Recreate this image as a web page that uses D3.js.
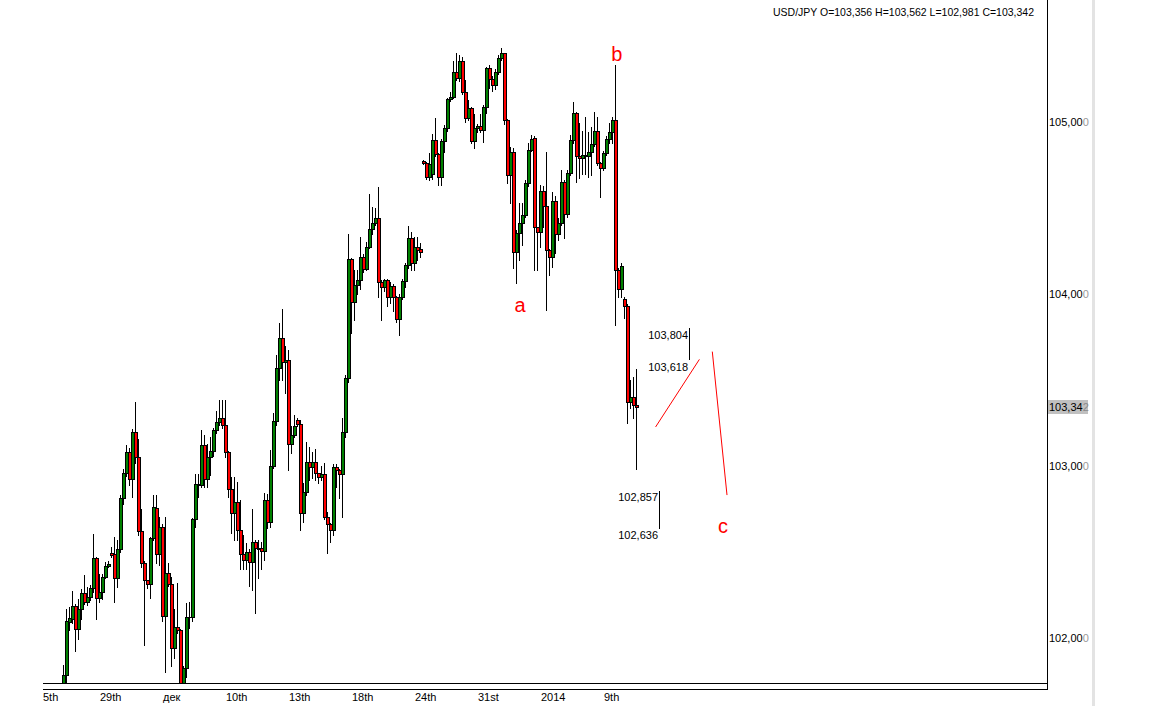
<!DOCTYPE html>
<html><head><meta charset="utf-8">
<script src="https://cdn.jsdelivr.net/npm/d3@7"></script>
<style>html,body{margin:0;padding:0;background:#fff;}svg text{font-family:"Liberation Sans",Arial,sans-serif;}</style>
</head><body>
<script>
// ---- data (USD/JPY, 4H candles) ----
const opens = [101.70,101.785,102.093,102.112,102.188,102.051,102.170,102.260,102.208,102.240,
102.289,102.463,102.231,102.266,102.357,102.419,102.497,102.488,102.351,102.516,
102.812,102.958,103.083,102.923,103.196,103.051,102.624,102.434,102.337,102.314,
102.583,102.756,102.487,102.647,102.130,102.376,102.314,101.940,102.066,102.047,
101.65,101.827,102.124,102.12,102.692,102.894,102.890,103.122,102.923,103.054,
103.089,103.209,103.254,103.277,103.238,103.080,102.865,102.725,102.789,102.628,
102.487,102.453,102.500,102.440,102.557,102.515,102.525,102.505,102.802,102.676,
103.000,103.262,103.568,103.742,103.606,103.616,103.126,103.180,103.265,103.245,
102.725,102.851,103.022,102.992,103.022,102.958,102.938,102.955,102.702,102.663,
102.628,102.992,102.977,102.953,103.196,103.510,104.203,103.955,104.052,104.080,
104.217,104.144,104.275,104.376,104.411,104.440,104.072,104.039,104.081,103.980,
104.046,103.984,103.855,103.984,104.076,104.169,104.324,104.178,104.272,104.263,
104.773,104.760,104.682,104.700,104.895,104.812,104.678,104.890,104.963,105.132,
105.147,105.289,105.254,105.356,105.173,105.021,105.083,104.891,104.963,104.975,
104.955,105.089,105.312,105.249,105.216,105.290,105.374,105.399,105.012,104.692,
104.827,104.246,104.353,104.411,104.459,104.644,104.837,104.905,104.388,104.362,
104.599,104.512,104.256,104.213,104.541,104.347,104.415,104.649,104.463,104.702,
104.895,105.050,104.802,104.790,104.810,104.800,104.827,104.870,104.948,104.763,
104.734,104.818,104.899,104.944,105.012,104.140,104.027,103.969,103.930,103.374,
103.403,103.356];
const highs = [101.843,102.169,102.182,102.273,102.20,102.228,102.283,102.365,102.298,102.31,
102.605,102.47,102.372,102.37,102.44,102.45,102.531,102.589,102.57,102.83,
102.98,103.12,103.103,103.215,103.370,103.155,102.748,102.45,102.34,102.589,
102.831,102.831,102.705,102.66,102.705,102.434,102.357,102.167,102.318,102.05,
101.84,102.205,102.211,102.70,102.952,102.953,103.209,103.18,103.126,103.17,
103.219,103.320,103.384,103.384,103.384,103.09,102.938,102.938,102.909,102.802,
102.599,102.55,102.52,102.750,102.570,102.57,102.56,102.841,102.84,103.093,
103.306,103.645,103.830,103.911,103.70,103.674,103.233,103.297,103.28,103.27,
102.899,103.141,103.112,103.083,103.10,102.96,103.0,103.016,102.734,102.67,
103.012,103.01,102.98,103.277,103.53,104.349,104.21,104.140,104.14,104.333,
104.23,104.304,104.581,104.508,104.50,104.624,104.08,104.09,104.09,104.07,
104.06,103.99,104.00,104.09,104.18,104.395,104.362,104.333,104.33,104.295,
104.78,104.77,104.818,104.928,105.021,104.82,104.90,104.983,105.14,105.176,
105.356,105.399,105.390,105.38,105.244,105.128,105.09,105.047,104.99,105.047,
105.10,105.32,105.33,105.27,105.31,105.39,105.428,105.40,105.02,104.856,
104.85,104.37,104.527,104.527,104.66,104.876,104.924,104.92,104.39,104.634,
104.63,104.827,104.26,104.595,104.57,104.44,104.721,104.66,104.72,104.924,
105.118,105.06,104.992,104.95,105.03,104.94,104.973,105.060,105.03,104.77,
104.83,104.92,104.992,105.03,105.331,104.15,104.178,103.98,103.94,103.5,
103.519,103.562];
const lows = [101.65,101.74,102.047,102.09,101.926,101.994,102.11,102.198,102.192,102.22,
102.27,102.109,102.211,102.227,102.35,102.41,102.47,102.211,102.298,102.5,
102.78,102.94,102.890,102.822,103.019,102.6,102.41,101.959,102.29,102.231,
102.57,102.438,102.424,102.10,101.805,102.3,101.839,101.882,102.03,101.65,
101.6,101.775,102.056,102.1,102.647,102.822,102.88,102.880,102.88,102.948,
103.06,103.19,103.24,103.219,103.05,102.822,102.609,102.570,102.570,102.399,
102.40,102.40,102.30,102.279,102.144,102.347,102.40,102.453,102.638,102.647,
102.99,103.24,103.50,103.50,103.423,102.977,103.074,103.17,103.23,102.628,
102.676,102.831,102.919,102.928,102.919,102.90,102.92,102.69,102.493,102.560,
102.6,102.88,102.812,102.705,103.17,103.49,103.771,103.849,104.00,104.03,
104.13,104.140,104.27,104.35,104.40,103.984,103.849,104.02,103.93,103.95,
103.90,103.839,103.762,103.97,104.042,104.15,104.140,104.14,104.20,104.213,
104.756,104.667,104.663,104.67,104.80,104.634,104.634,104.827,104.95,105.12,
105.138,105.244,105.24,105.16,105.002,105.01,104.88,104.847,104.94,104.94,
104.885,105.054,105.20,105.18,105.19,105.28,105.36,104.99,104.644,104.527,
104.149,104.066,104.198,104.285,104.45,104.63,104.83,104.140,104.14,104.275,
104.391,103.907,104.110,104.159,104.237,104.314,104.40,104.324,104.45,104.69,
104.88,104.653,104.673,104.70,104.70,104.68,104.692,104.86,104.75,104.566,
104.72,104.81,104.88,104.876,103.820,103.98,103.984,103.859,103.248,103.335,
103.277,102.981];
const closes = [101.785,102.099,102.116,102.188,102.051,102.170,102.260,102.208,102.240,102.289,
102.463,102.231,102.266,102.357,102.419,102.43,102.480,102.351,102.516,102.812,
102.958,103.083,102.923,103.196,103.051,102.624,102.434,102.337,102.314,102.583,
102.763,102.487,102.647,102.130,102.376,102.314,101.940,102.066,102.047,101.70,
101.827,102.124,102.12,102.692,102.894,102.890,103.122,102.923,103.054,103.089,
103.209,103.254,103.277,103.238,103.080,102.865,102.725,102.789,102.628,102.487,
102.453,102.500,102.440,102.557,102.522,102.525,102.505,102.802,102.676,103.000,
103.262,103.568,103.742,103.606,103.616,103.126,103.180,103.233,103.245,102.725,
102.851,103.022,102.992,103.022,102.958,102.938,102.955,102.702,102.663,102.628,
102.992,102.977,102.953,103.196,103.510,104.203,103.955,104.052,104.080,104.217,
104.144,104.275,104.376,104.411,104.440,104.072,104.039,104.081,103.980,104.046,
103.984,103.855,103.984,104.076,104.169,104.324,104.178,104.272,104.256,104.243,
104.760,104.682,104.756,104.895,104.812,104.678,104.890,104.963,105.132,105.147,
105.289,105.254,105.356,105.173,105.021,105.083,104.891,104.963,104.975,104.955,
105.089,105.312,105.249,105.216,105.290,105.374,105.399,105.012,104.692,104.827,
104.246,104.353,104.411,104.459,104.644,104.837,104.899,104.388,104.362,104.599,
104.512,104.256,104.213,104.541,104.347,104.415,104.649,104.463,104.702,104.895,
105.050,104.802,104.790,104.810,104.800,104.827,104.870,104.948,104.763,104.734,
104.818,104.899,104.944,105.012,104.140,104.027,104.163,103.930,103.374,103.403,
103.355,103.342];

const priceTicks = [105, 104, 103, 102];
const timeLabels = ["5th","29th","дек","10th","13th","18th","24th","31st","2014","9th"];
const timeLabelIdx = [-7, 12, 33, 54, 75, 96, 117, 138, 159, 180];
const lastPrice = 103.342;
const header = "USD/JPY O=103,356 H=103,562 L=102,981 C=103,342";
// wave annotations: [label, index, price at baseline]
const waveLabels = [["a", 152.0, 103.895], ["b", 184.3, 105.355], ["c", 219.7, 102.61]];
const projUp = [[197.2, 103.227], [211.8, 103.620]];
const projDown = [[216.1, 103.665], [221.0, 102.831]];
const markerHigh = [103.804, 103.618];
const markerLow = [102.857, 102.636];

// ---- drawing ----
const W = 1169, H = 706;
const svg = d3.select("body").append("svg").attr("width", W).attr("height", H)
  .style("display","block").attr("shape-rendering","crispEdges");
svg.append("rect").attr("width", W).attr("height", H).attr("fill", "#fff");

const plotL = 43, plotR = 1047, plotT = 0, plotB = 683;
const x = d3.scaleLinear().domain([0, 191]).range([64, 637]);
const y = d3.scaleLinear().domain([102, 105]).range([638, 122]);
const fmt = v => v.toFixed(3).replace(".", ",");

svg.append("clipPath").attr("id","clip").append("rect")
  .attr("x", plotL).attr("y", plotT).attr("width", plotR - plotL).attr("height", plotB - plotT);

const g = svg.append("g").attr("clip-path","url(#clip)");
const candles = d3.range(opens.length).map(i => ({i, o: opens[i], h: highs[i], l: lows[i], c: closes[i]}));

// wicks
g.selectAll("line.wick").data(candles).join("line").attr("class","wick")
  .attr("x1", d => Math.round(x(d.i)) - 0.5).attr("x2", d => Math.round(x(d.i)) - 0.5)
  .attr("y1", d => Math.round(y(d.h))).attr("y2", d => Math.round(y(d.l)) + 1)
  .attr("stroke", "#000").attr("stroke-width", 1);
// bodies
candles.forEach(d => {
  const xc = Math.round(x(d.i));
  const yt = Math.round(y(Math.max(d.o, d.c)));
  const yb = Math.round(y(Math.min(d.o, d.c)));
  if (yb - yt < 1) {
    g.append("line").attr("x1", xc - 2).attr("x2", xc + 2).attr("y1", yt + 0.5).attr("y2", yt + 0.5)
      .attr("stroke", "#000").attr("stroke-width", 1);
  } else {
    g.append("rect").attr("x", xc - 1.5).attr("y", yt + 0.5).attr("width", 3).attr("height", yb - yt)
      .attr("fill", d.c >= d.o ? "#008000" : "#ff0000").attr("stroke", "#000").attr("stroke-width", 1);
  }
});

// frame lines
svg.append("line").attr("x1", plotR + 0.5).attr("x2", plotR + 0.5).attr("y1", 0).attr("y2", 690).attr("stroke", "#000");
svg.append("line").attr("x1", plotL).attr("x2", plotR + 1).attr("y1", plotB + 0.5).attr("y2", plotB + 0.5).attr("stroke", "#000");
svg.append("line").attr("x1", plotL).attr("x2", plotR + 1).attr("y1", 689.5).attr("y2", 689.5).attr("stroke", "#000");
svg.append("rect").attr("x", 1092).attr("y", 0).attr("width", 3).attr("height", H).attr("fill", "#e3e3e3");

// price axis labels
const ax = svg.append("g").attr("font-size", "11px");
priceTicks.forEach(v => {
  const s = fmt(v);
  const t = ax.append("text").attr("x", 1049).attr("y", y(v) + 4).attr("fill", "#000");
  t.append("tspan").text(s.slice(0, -1));
  t.append("tspan").attr("fill", "#9a9a9a").text(s.slice(-1));
});
svg.append("rect").attr("x", 1048).attr("y", Math.round(y(lastPrice)) - 7).attr("width", 40).attr("height", 14).attr("fill", "#c0c0c0");
{
  const s = fmt(lastPrice);
  const t = svg.append("text").attr("x", 1049).attr("y", y(lastPrice) + 4).attr("font-size", "11px").attr("fill", "#000");
  t.append("tspan").text(s.slice(0, -1));
  t.append("tspan").attr("fill", "#8a8a8a").text(s.slice(-1));
}

// time axis labels
svg.append("g").selectAll("text").data(timeLabels).join("text")
  .attr("x", (d, k) => Math.round(x(timeLabelIdx[k])))
  .attr("y", 701).attr("font-size", "11px").attr("fill", "#000").text(d => d);

// header
svg.append("text").attr("x", 773).attr("y", 16).attr("font-size", "11px").attr("fill", "#000")
  .attr("textLength", 261).attr("lengthAdjust", "spacingAndGlyphs").text(header);

// wave projection lines
const ln = d3.line().x(p => x(p[0])).y(p => y(p[1]));
svg.append("path").attr("d", ln(projUp)).attr("stroke", "#ff0000").attr("fill", "none").attr("shape-rendering","auto");
svg.append("path").attr("d", ln(projDown)).attr("stroke", "#ff0000").attr("fill", "none").attr("shape-rendering","auto");

// level markers
function marker(vals, idx, off) {
  const xm = Math.round(x(idx)) + 0.5;
  svg.append("line").attr("x1", xm).attr("x2", xm).attr("y1", y(vals[0])).attr("y2", y(vals[1])).attr("stroke", "#000");
  vals.forEach(v => svg.append("text").attr("x", xm - 1.5).attr("y", y(v) + off + 4)
    .attr("text-anchor", "end").attr("font-size", "11px").attr("fill", "#000").text(fmt(v)));
}
marker(markerHigh, 208.2, 7);
marker(markerLow, 198.2, 6);

// wave labels
svg.append("g").selectAll("text").data(waveLabels).join("text")
  .attr("x", d => x(d[1])).attr("y", d => y(d[2]))
  .attr("text-anchor", "middle").attr("font-size", "20px").attr("fill", "#ff0000").text(d => d[0]);
</script>
</body></html>
